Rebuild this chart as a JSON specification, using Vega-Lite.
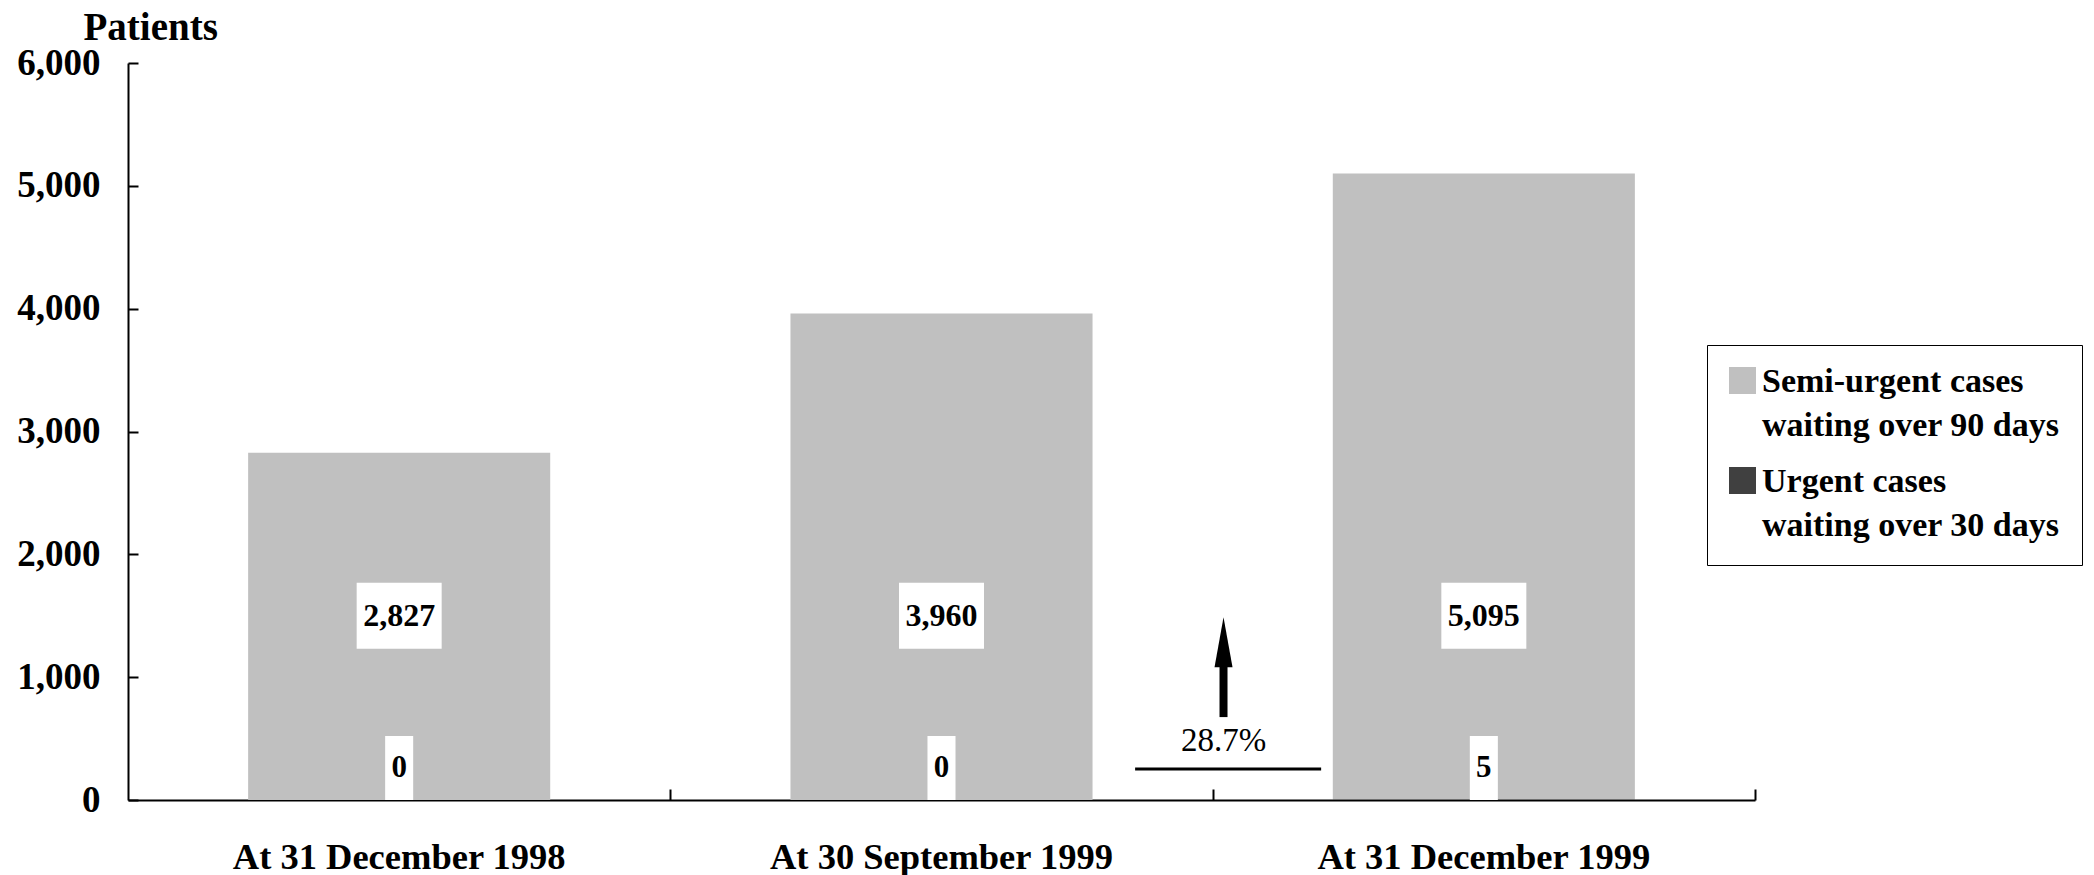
{
  "$schema": "https://vega.github.io/schema/vega-lite/v6.json",
  "width": 1627,
  "height": 737,
  "autosize": {"type": "none"},
  "padding": {"left": 128, "top": 63, "right": 339, "bottom": 75},
  "background": "white",
  "config": {
    "view": {"stroke": null},
    "style": {"guide-label": {"lineHeight": 44}},
    "axis": {"grid": false}
  },
  "datasets": {
    "waiting": [
      {"date": "At 31 December 1998", "group": "Semi-urgent cases waiting over 90 days", "patients": 2827},
      {"date": "At 30 September 1999", "group": "Semi-urgent cases waiting over 90 days", "patients": 3960},
      {"date": "At 31 December 1999", "group": "Semi-urgent cases waiting over 90 days", "patients": 5095},
      {"date": "At 31 December 1998", "group": "Urgent cases waiting over 30 days", "patients": 0},
      {"date": "At 30 September 1999", "group": "Urgent cases waiting over 30 days", "patients": 0},
      {"date": "At 31 December 1999", "group": "Urgent cases waiting over 30 days", "patients": 5}
    ],
    "change": [{"label": "28.7%"}]
  },
  "layer": [
    {
      "data": {"name": "waiting"},
      "layer": [
        {
          "mark": {"type": "bar"},
          "encoding": {
            "x": {
              "field": "date", "type": "nominal", "sort": null,
              "scale": {"paddingInner": 0.443, "paddingOuter": 0.2215},
              "axis": {
                "orient": "bottom", "title": null, "ticks": false,
                "domainColor": "black", "domainWidth": 2,
                "labelFont": "Liberation Serif", "labelFontWeight": "bold", "labelFontSize": 36.5,
                "labelColor": "black", "labelPadding": 39, "labelAngle": 0, "labelBaseline": "top",
                "labelLimit": 0
              }
            },
            "y": {
              "field": "patients", "type": "quantitative", "stack": "zero",
              "scale": {"domain": [0, 6000], "nice": false},
              "axis": {
                "values": [0, 1000, 2000, 3000, 4000, 5000, 6000], "format": ",d",
                "labelFont": "Liberation Serif", "labelFontWeight": "bold", "labelFontSize": 37,
                "labelColor": "black", "labelPadding": 38,
                "tickSize": -10, "tickWidth": 2, "tickColor": "black",
                "domainColor": "black", "domainWidth": 2,
                "title": "Patients", "titleAngle": 0, "titleX": -45, "titleY": -24,
                "titleAlign": "left", "titleBaseline": "alphabetic",
                "titleFont": "Liberation Serif", "titleFontSize": 39, "titleFontWeight": "bold", "titleColor": "black"
              }
            },
            "color": {
              "field": "group", "type": "nominal",
              "scale": {
                "domain": ["Semi-urgent cases waiting over 90 days", "Urgent cases waiting over 30 days"],
                "range": ["#c0c0c0", "#404040"]
              },
              "legend": {
                "orient": "none", "legendX": 1579, "legendY": 282, "title": null,
                "strokeColor": "black", "fillColor": "white", "padding": 22,
                "symbolType": "M-1,-1H0.08V0.08H-1Z", "symbolSize": 2500,
                "symbolStrokeWidth": 0, "symbolOpacity": 1,
                "labelFont": "Liberation Serif", "labelFontWeight": "bold", "labelFontSize": 34,
                "labelColor": "black", "labelLimit": 0, "labelBaseline": "alphabetic",
                "labelOffset": -17, "rowPadding": 22,
                "labelExpr": "split(replace(datum.label, ' waiting', '|waiting'), '|')"
              }
            },
            "order": {"field": "group", "sort": "descending"}
          }
        },
        {
          "transform": [{"filter": "datum.group == 'Semi-urgent cases waiting over 90 days'"}],
          "mark": {"type": "point", "shape": "M-1,-0.776H1V0.776H-1Z", "size": 7225, "filled": true, "fill": "white", "strokeWidth": 0, "opacity": 1},
          "encoding": {
            "x": {"field": "date", "type": "nominal", "sort": null},
            "y": {"datum": 1500, "type": "quantitative"}
          }
        },
        {
          "transform": [{"filter": "datum.group == 'Semi-urgent cases waiting over 90 days'"}],
          "mark": {"type": "text", "font": "Liberation Serif", "fontWeight": "bold", "fontSize": 32, "color": "black", "baseline": "middle"},
          "encoding": {
            "x": {"field": "date", "type": "nominal", "sort": null},
            "y": {"datum": 1500, "type": "quantitative"},
            "text": {"field": "patients", "type": "quantitative", "format": ","}
          }
        },
        {
          "transform": [{"filter": "datum.group == 'Urgent cases waiting over 30 days'"}],
          "mark": {"type": "point", "shape": "M-0.219,-1H0.219V0H-0.219Z", "size": 16384, "filled": true, "fill": "white", "strokeWidth": 0, "opacity": 1},
          "encoding": {
            "x": {"field": "date", "type": "nominal", "sort": null},
            "y": {"datum": 0, "type": "quantitative"}
          }
        },
        {
          "transform": [{"filter": "datum.group == 'Urgent cases waiting over 30 days'"}],
          "mark": {"type": "text", "font": "Liberation Serif", "fontWeight": "bold", "fontSize": 31, "color": "black", "baseline": "middle", "dy": -32},
          "encoding": {
            "x": {"field": "date", "type": "nominal", "sort": null},
            "y": {"datum": 0, "type": "quantitative"},
            "text": {"field": "patients", "type": "quantitative", "format": ","}
          }
        }
      ]
    },
    {
      "data": {"name": "change"},
      "layer": [
        {
          "mark": {"type": "rule", "strokeWidth": 8, "color": "black"},
          "encoding": {
            "x": {
              "datum": 2.02, "type": "quantitative", "scale": {"domain": [0, 3]},
              "axis": {
                "orient": "bottom", "values": [1, 2, 3], "labels": false, "domain": false, "grid": false,
                "title": null, "tickSize": -11, "tickWidth": 2, "tickColor": "black"
              }
            },
            "y": {"datum": 675, "type": "quantitative"},
            "y2": {"datum": 1100}
          }
        },
        {
          "mark": {"type": "point", "shape": "M0,-1L0.18,0L-0.18,0Z", "size": 10000, "filled": true, "fill": "black", "strokeWidth": 0, "opacity": 1},
          "encoding": {
            "x": {"datum": 2.02, "type": "quantitative"},
            "y": {"datum": 1081, "type": "quantitative"}
          }
        },
        {
          "mark": {"type": "text", "font": "Liberation Serif", "fontSize": 33, "color": "black", "baseline": "middle"},
          "encoding": {
            "x": {"datum": 2.02, "type": "quantitative"},
            "y": {"datum": 480, "type": "quantitative"},
            "text": {"field": "label", "type": "nominal"}
          }
        },
        {
          "mark": {"type": "rule", "strokeWidth": 3, "color": "black"},
          "encoding": {
            "x": {"datum": 1.857, "type": "quantitative"},
            "x2": {"datum": 2.2},
            "y": {"datum": 252, "type": "quantitative"}
          }
        }
      ]
    }
  ],
  "resolve": {"scale": {"x": "independent"}, "axis": {"x": "independent"}}
}
